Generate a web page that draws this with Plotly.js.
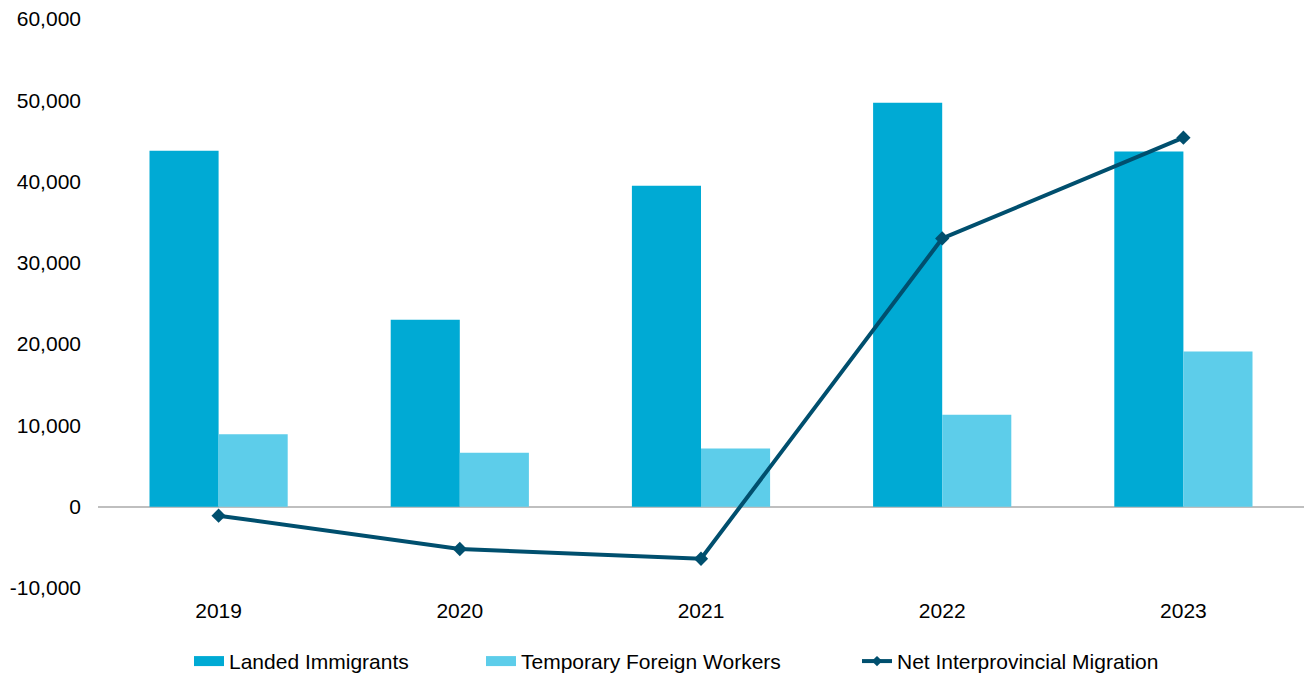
<!DOCTYPE html>
<html>
<head>
<meta charset="utf-8">
<script src="https://cdn.plot.ly/plotly-3.0.1.min.js"></script>
<style>html,body{margin:0;padding:0;background:#fff;}#chart{width:1307px;height:677px;}</style>
</head>
<body>
<div id="chart"></div>
<script>
const years = ['2019', '2020', '2021', '2022', '2023'];
const landedImmigrants = [43800, 23000, 39500, 49700, 43700];
const temporaryForeignWorkers = [8900, 6650, 7150, 11300, 19100];
const netInterprovincialMigration = [-1100, -5200, -6400, 33000, 45400];
const yTickVals = [-10000, 0, 10000, 20000, 30000, 40000, 50000, 60000];
const yTickText = ['-10,000', '0', '10,000', '20,000', '30,000', '40,000', '50,000', '60,000'];

const font = {family: 'Liberation Sans, Arial, sans-serif', size: 21, color: '#000'};
const cLanded = '#00AAD4', cTFW = '#5DCDEA', cNet = '#004F6E';

const traces = [
  {type: 'bar', name: 'Landed Immigrants', x: years, y: landedImmigrants,
   marker: {color: cLanded}, hoverinfo: 'none', showlegend: false},
  {type: 'bar', name: 'Temporary Foreign Workers', x: years, y: temporaryForeignWorkers,
   marker: {color: cTFW}, hoverinfo: 'none', showlegend: false},
  {type: 'scatter', mode: 'lines+markers', name: 'Net Interprovincial Migration',
   x: years, y: netInterprovincialMigration,
   line: {color: cNet, width: 4},
   marker: {symbol: 'diamond', size: 11, color: cNet}, hoverinfo: 'none', showlegend: false},
  // legend entries
  {type: 'scatter', mode: 'lines', name: 'Landed Immigrants', x: [null], y: [null],
   line: {color: cLanded, width: 15}, hoverinfo: 'none', legend: 'legend'},
  {type: 'scatter', mode: 'lines', name: 'Temporary Foreign Workers', x: [null], y: [null],
   line: {color: cTFW, width: 15}, hoverinfo: 'none', legend: 'legend2'},
  {type: 'scatter', mode: 'lines+markers', name: 'Net Interprovincial Migration', x: [null], y: [null],
   line: {color: cNet, width: 4}, marker: {symbol: 'diamond', size: 8, color: cNet},
   hoverinfo: 'none', legend: 'legend3'}
];

function leg(x) {
  return {orientation: 'h', x: x, xanchor: 'left', xref: 'container',
          y: 0.023, yanchor: 'middle', yref: 'container',
          font: font, itemwidth: 30, bgcolor: 'rgba(0,0,0,0)'};
}

const layout = {
  width: 1307, height: 677,
  margin: {l: 98, r: 3, t: 19, b: 89},
  paper_bgcolor: '#fff', plot_bgcolor: '#fff',
  font: font,
  barmode: 'group', bargap: 0.427, bargroupgap: 0,
  showlegend: true,
  legend: leg(0.1446),
  legend2: leg(0.368),
  legend3: leg(0.6557),
  xaxis: {type: 'category', showgrid: false, zeroline: false, showline: false,
          ticks: '', tickfont: font, ticklabelstandoff: 8, fixedrange: true},
  yaxis: {range: [-10000, 60000], tickvals: yTickVals, ticktext: yTickText,
          showgrid: false, zeroline: true, zerolinecolor: '#BFBFBF', zerolinewidth: 2,
          showline: false, ticks: '', tickfont: font, ticklabelstandoff: 16, fixedrange: true}
};

Plotly.newPlot('chart', traces, layout, {displayModeBar: false, staticPlot: true});
</script>
</body>
</html>
